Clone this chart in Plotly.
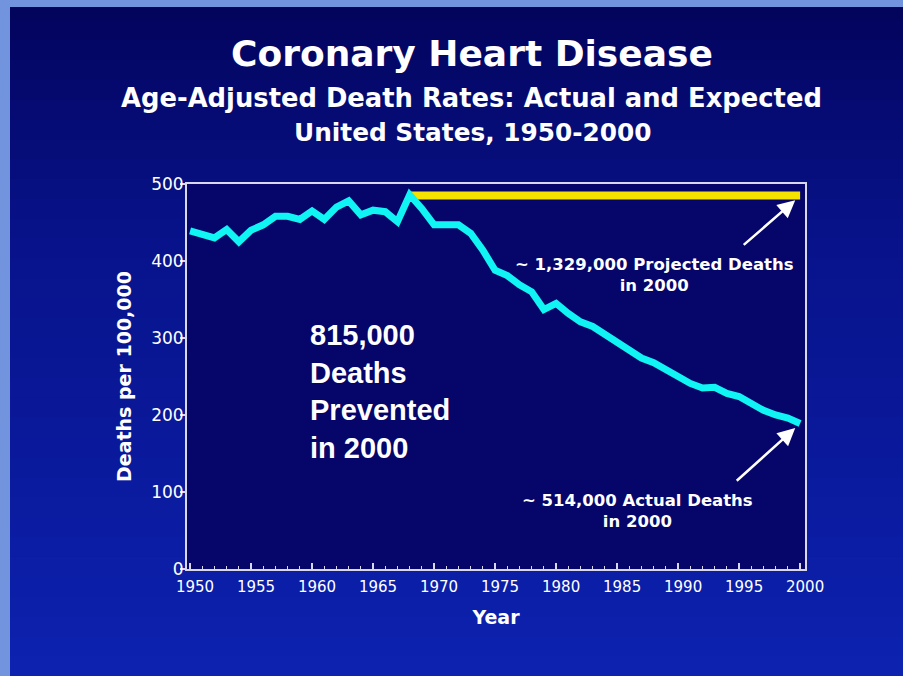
import plotly.graph_objects as go

# Age-adjusted CHD death rate per 100,000
years = list(range(1950, 2001))
actual_rate = [439, 434, 430, 441, 425, 440, 447, 458, 458, 454,
               465, 454, 470, 478, 460, 466, 464, 451, 486, 468,
               447, 447, 447, 436, 414, 388, 381, 369, 360, 337,
               345, 332, 321, 315, 305, 295, 284, 274, 268, 258,
               250, 241, 235, 236, 228, 224, 215, 206, 200, 196, 189]
expected_years = [1968, 2000]
expected_rate = [485, 485]

W, H = 903, 676
L, R, T, B = 187, 98, 184, 107
PW, PH = W - L - R, H - T - B

TITLE_FONT = "DejaVu Sans, Verdana, sans-serif"
ARIAL = "Liberation Sans, Arial, sans-serif"


def px_x(px):
    return (px - L) / PW


def px_y(py):
    return (H - B - py) / PH


def hex_mix(c0, c1, f):
    a = [int(c0[i:i + 2], 16) for i in (1, 3, 5)]
    b = [int(c1[i:i + 2], 16) for i in (1, 3, 5)]
    return "#" + "".join(f"{round(x + (y - x) * f):02x}" for x, y in zip(a, b))


# slide background: vertical blue ramp built from thin bands
stops = [(0.0, "#03035a"), (0.15, "#050a70"), (0.35, "#08138a"),
         (0.6, "#0a1898"), (0.85, "#0b1ea6"), (1.0, "#0d22b0")]
shapes = []
n_bands = 34
for i in range(n_bands):
    f = (i + 0.5) / n_bands
    for (s0, c0), (s1, c1) in zip(stops, stops[1:]):
        if s0 <= f <= s1:
            col = hex_mix(c0, c1, (f - s0) / (s1 - s0))
            break
    shapes.append(dict(type="rect", xref="paper", yref="paper", layer="below",
                       x0=px_x(0), x1=px_x(W), y0=px_y(H * (i + 1) / n_bands + 1),
                       y1=px_y(H * i / n_bands), fillcolor=col, line=dict(width=0)))
# light frame strips at left and top edges
shapes.append(dict(type="rect", xref="paper", yref="paper", layer="below",
                   x0=px_x(0), x1=px_x(10), y0=px_y(H), y1=px_y(0),
                   fillcolor="#7294de", line=dict(width=0)))
shapes.append(dict(type="rect", xref="paper", yref="paper", layer="below",
                   x0=px_x(0), x1=px_x(W), y0=px_y(7), y1=px_y(0),
                   fillcolor="#7294de", line=dict(width=0)))
# plot area
shapes.append(dict(type="rect", xref="paper", yref="paper", layer="below",
                   x0=0, x1=1, y0=0, y1=1, fillcolor="#05056a", line=dict(width=0)))

fig = go.Figure()
fig.add_trace(go.Scatter(
    x=expected_years, y=expected_rate, mode="lines", name="Expected",
    line=dict(color="#f7e300", width=8),
))
fig.add_trace(go.Scatter(
    x=years, y=actual_rate, mode="lines", name="Actual",
    line=dict(color="#10f4f4", width=7),
))

annotations = [
    dict(text="Coronary Heart Disease", x=px_x(472), y=px_y(53),
         font=dict(family=TITLE_FONT, size=36, color="white", weight="bold")),
    dict(text="Age-Adjusted Death Rates: Actual and Expected", x=px_x(471), y=px_y(98),
         font=dict(family=TITLE_FONT, size=25.8, color="white", weight="bold")),
    dict(text="United States, 1950-2000", x=px_x(473), y=px_y(132),
         font=dict(family=TITLE_FONT, size=24.8, color="white", weight="bold")),
]
for a in annotations:
    a.update(xref="paper", yref="paper", showarrow=False, xanchor="center", yanchor="middle")

annotations += [
    dict(text="815,000<br>Deaths<br>Prevented<br>in 2000", x=1959.7, y=230,
         xanchor="left", yanchor="middle", align="left", showarrow=False,
         font=dict(family=ARIAL, size=29, color="white", weight="bold")),
    dict(text="~ 1,329,000 Projected Deaths<br>in 2000", x=1988.1, y=382,
         xanchor="center", yanchor="middle", align="center", showarrow=False,
         font=dict(family=TITLE_FONT, size=16.5, color="white", weight="bold")),
    dict(text="~ 514,000 Actual Deaths<br>in 2000", x=1986.7, y=75,
         xanchor="center", yanchor="middle", align="center", showarrow=False,
         font=dict(family=TITLE_FONT, size=16.5, color="white", weight="bold")),
    dict(text="", x=1999.6, y=479, ax=-53, ay=46, showarrow=True,
         arrowhead=2, arrowsize=1.4, arrowwidth=2.5, arrowcolor="white"),
    dict(text="", x=1999.6, y=183, ax=-60, ay=54, showarrow=True,
         arrowhead=2, arrowsize=1.4, arrowwidth=2.5, arrowcolor="white"),
]

axis_line = "#d8d8e8"
fig.update_layout(
    width=W, height=H, autosize=False,
    margin=dict(l=L, r=R, t=T, b=B),
    paper_bgcolor="#06087a", plot_bgcolor="rgba(0,0,0,0)",
    showlegend=False,
    shapes=shapes,
    annotations=annotations,
    xaxis=dict(
        range=[1949.75, 2000.4], tickmode="linear", tick0=1950, dtick=5,
        ticks="inside", ticklen=6, tickwidth=1.5, tickcolor=axis_line,
        minor=dict(tick0=1950, dtick=1, ticks="inside", ticklen=3, tickwidth=1, tickcolor=axis_line),
        showline=True, linecolor=axis_line, linewidth=2, mirror=True,
        showgrid=False, zeroline=False, ticklabelshift=5, ticklabelstandoff=3,
        tickfont=dict(family=TITLE_FONT, size=15, color="white"),
        title=dict(text="Year", standoff=16,
                   font=dict(family=TITLE_FONT, size=19, color="white", weight="bold")),
    ),
    yaxis=dict(
        range=[0, 500], tickmode="linear", tick0=0, dtick=100,
        ticks="outside", ticklen=5, tickwidth=1.5, tickcolor=axis_line,
        ticklabelstandoff=-7,
        showline=True, linecolor=axis_line, linewidth=2, mirror=True,
        showgrid=False, zeroline=False,
        tickfont=dict(family=TITLE_FONT, size=17, color="white"),
        title=dict(text="Deaths per 100,000", standoff=14,
                   font=dict(family=TITLE_FONT, size=19, color="white", weight="bold")),
    ),
)

# the slide fills the whole window, so drop the page's default body margin
fig.write_html("out.html", config=dict(displayModeBar=False),
               post_script="document.body.style.margin='0';document.body.style.overflow='hidden';")
